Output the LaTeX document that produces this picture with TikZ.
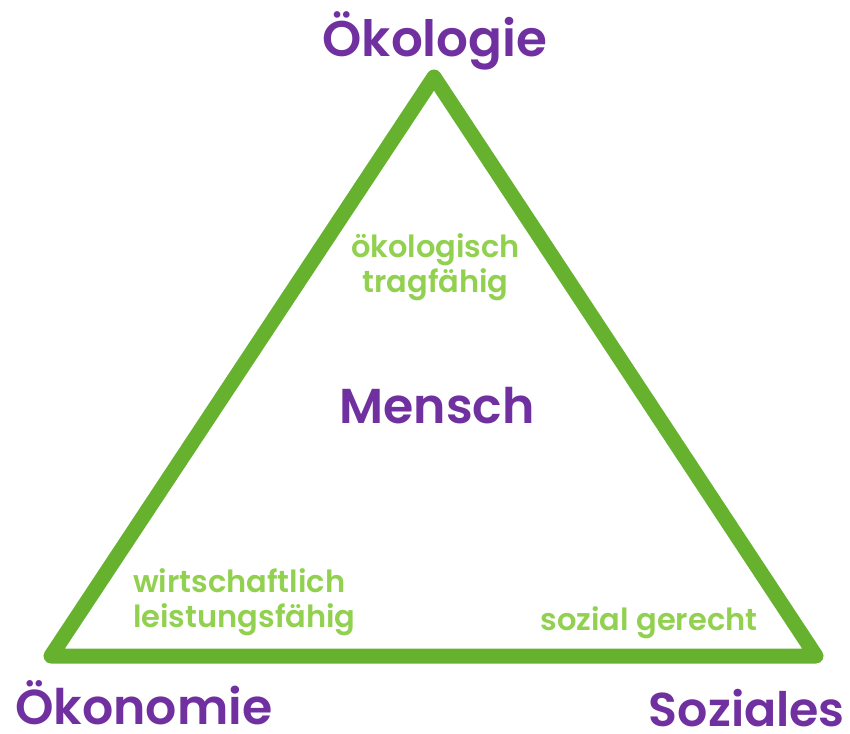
\documentclass[tikz,border=0pt]{standalone}
\usepackage{fontspec}
\newfontfamily\pop{Poppins SemiBold}
\definecolor{linegreen}{HTML}{66B22F}
\definecolor{txtgreen}{HTML}{92D050}
\definecolor{purp}{HTML}{7030A0}
\begin{document}
\begin{tikzpicture}[x=1pt,y=-1pt,
  corner/.style={font=\pop\fontsize{49}{52}\selectfont, text=purp, inner sep=0pt},
  sub/.style={font=\pop\fontsize{30.5}{35}\selectfont, text=txtgreen, inner sep=0pt},
  tri/.style={draw=linegreen, line width=15pt, line join=round}]
\useasboundingbox (0,0) rectangle (850,733);
\coordinate (A) at (434,77);
\coordinate (B) at (51,656);
\coordinate (C) at (816,656);
\draw[tri] (A) -- (B) -- (C) -- cycle;
\node[corner, font=\pop\fontsize{50}{52}\selectfont, anchor=base] (oek) at (435,57) {Ökologie};
\node[corner, anchor=base west] (oekon) at (15,724) {Ökonomie};
\node[corner, font=\pop\fontsize{47.5}{50}\selectfont, anchor=base east] (soz) at (845,726) {Soziales};
\node[corner, anchor=base] (mensch) at (437,423) {Mensch};
\node[sub, align=center, anchor=base] (s1) at (435.5,292) {ökologisch\\tragfähig};
\node[sub, align=left, anchor=base west] (s2) at (133,627) {wirtschaftlich\\leistungsfähig};
\node[sub, anchor=base] (s3) at (649,630) {sozial gerecht};
\end{tikzpicture}
\end{document}
